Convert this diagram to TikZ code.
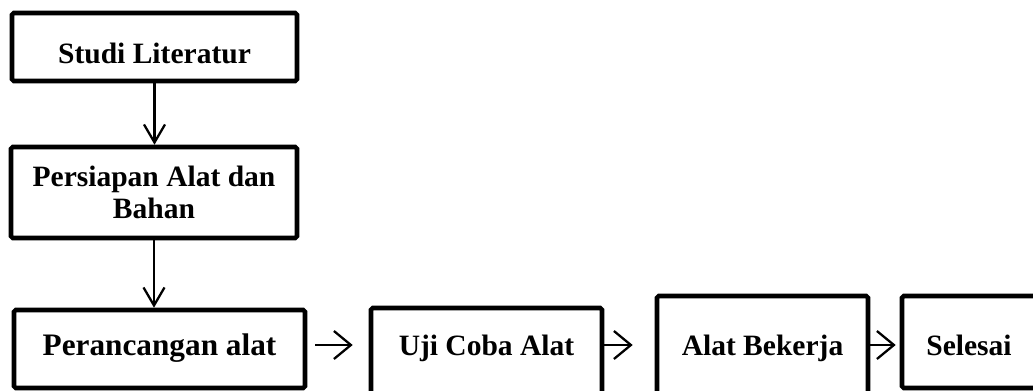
\documentclass[tikz,border=0pt]{standalone}
\usepackage{fontspec}
\setmainfont{Liberation Serif}
\usetikzlibrary{arrows.meta, positioning}

\begin{document}
\begin{tikzpicture}[x=0.2mm, y=-0.2mm,
        stagebox/.style={draw, line width=2.6pt, rounded corners=1pt, inner sep=0pt, align=center, anchor=base, font=\fontsize{16.8}{18.5}\selectfont\bfseries},
        downarrow/.style={-{Straight Barb[length=3.6mm, width=4.2mm]}, line width=1.3pt},
        rightarrow/.style={-{Straight Barb[length=3.4mm, width=5.6mm]}, line width=1.3pt}]
        \useasboundingbox (0,0) rectangle (1033,390);
        \clip (0,0) rectangle (1033,390);

        % Vertical stages
        \node[stagebox, minimum width=57mm, text height=10mm, text depth=3.6mm] (studi) at (154.5,63) {Studi Literatur};
        \node[stagebox, anchor=center, minimum width=57.2mm, minimum height=18.2mm] (persiapan) at (154,192.5) {Persiapan Alat dan\\Bahan};
        \node[stagebox, font=\fontsize{17.8}{18}\selectfont\bfseries, minimum width=58.2mm, text height=9mm, text depth=6.6mm] (rancang) at (159.5,355) {Perancangan alat};

        % Horizontal stages
        \node[stagebox, minimum width=46.2mm, text height=9.4mm, text depth=10mm] (ujicoba) at (486.5,355) {Uji Coba Alat};
        \node[stagebox, minimum width=42.2mm, text height=11.8mm, text depth=10mm] (bekerja) at (762.5,355) {Alat Bekerja};
        \node[stagebox, minimum width=26.8mm, text height=11.8mm, text depth=6.6mm] (selesai) at (969,355) {Selesai};

        % Arrows
        \coordinate (row) at (0,345);
        \draw[downarrow] (studi.south) -- (studi.south |- persiapan.north);
        \draw[downarrow] (persiapan.south) -- (persiapan.south |- rancang.north);
        \draw[rightarrow, shorten <=1.6mm, shorten >=3.2mm] (rancang.east |- row) -- (ujicoba.west |- row);
        \draw[rightarrow, shorten >=4.4mm] (ujicoba.east |- row) -- (bekerja.west |- row);
        \draw[rightarrow, shorten >=0.8mm] (bekerja.east |- row) -- (selesai.west |- row);
\end{tikzpicture}
\end{document}
